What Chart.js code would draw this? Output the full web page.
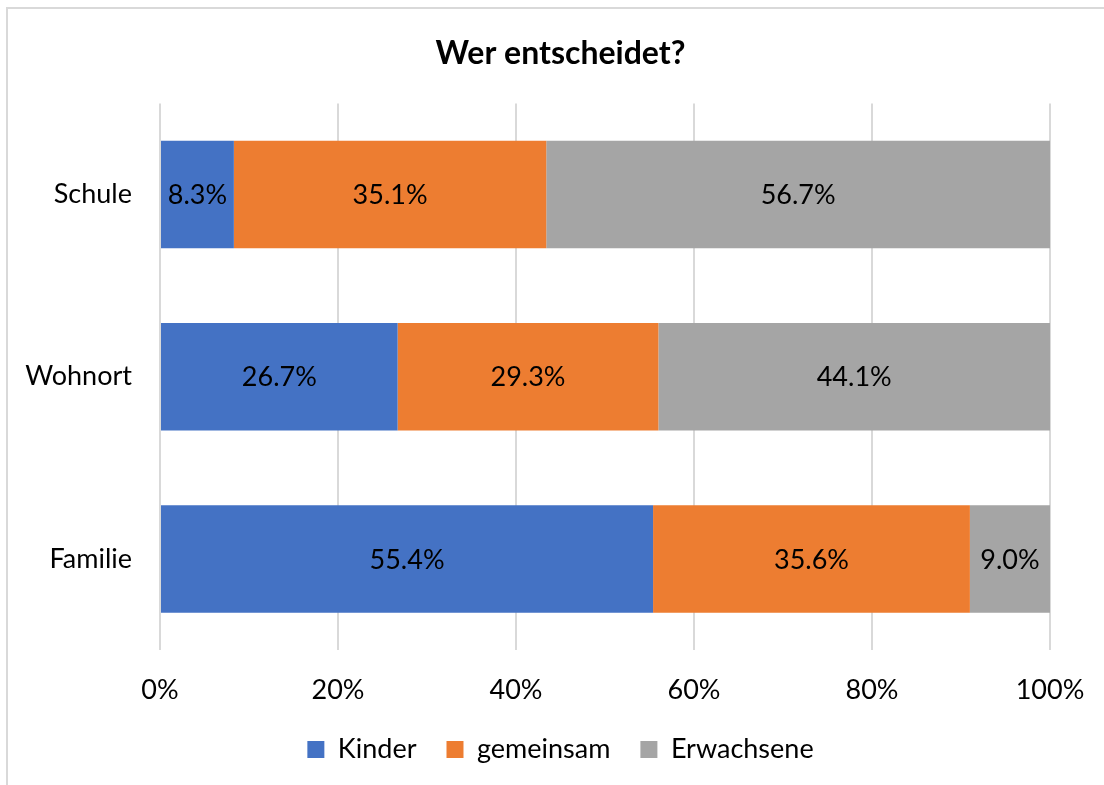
<!DOCTYPE html>
<html>
<head>
<meta charset="utf-8">
<script src="https://cdn.jsdelivr.net/npm/chart.js@4"></script>
<style>
  html, body { margin: 0; padding: 0; background: #fff; overflow: hidden; }
  #frame { position: absolute; left: 6px; top: 7px; width: 1120px; height: 800px; border: 2px solid #d9d9d9; box-sizing: border-box; }
  #wrap { position: absolute; left: 0; top: 0; width: 1104px; height: 785px; }
</style>
</head>
<body>
<div id="frame"></div>
<div id="wrap"><canvas id="chart" width="1104" height="785"></canvas></div>
<script>
// values
const categories = ["Schule", "Wohnort", "Familie"];
const kinder = [8.3, 26.7, 55.4];
const gemeinsam = [35.1, 29.3, 35.6];
const erwachsene = [56.7, 44.1, 9.0];
const tickLabels = ["0%", "20%", "40%", "60%", "80%", "100%"];

const fontFamily = "Lato, 'Open Sans', sans-serif";

// draws the value in the middle of each bar segment
const barLabels = {
  id: "barLabels",
  afterDatasetsDraw(chart) {
    const ctx = chart.ctx;
    ctx.save();
    ctx.font = "27px " + fontFamily;
    ctx.fillStyle = "#000";
    ctx.textAlign = "center";
    ctx.textBaseline = "middle";
    chart.data.datasets.forEach((ds, i) => {
      chart.getDatasetMeta(i).data.forEach((bar, j) => {
        const x0 = Math.min(bar.x, chart.chartArea.right);
        const x = (x0 + bar.base) / 2;
        ctx.fillText(ds.data[j].toFixed(1) + "%", x, bar.y + 1);
      });
    });
    ctx.restore();
  }
};

new Chart(document.getElementById("chart"), {
  type: "bar",
  data: {
    labels: categories,
    datasets: [
      { label: "Kinder", data: kinder, backgroundColor: "#4472c4" },
      { label: "gemeinsam", data: gemeinsam, backgroundColor: "#ed7d31" },
      { label: "Erwachsene", data: erwachsene, backgroundColor: "#a5a5a5" }
    ]
  },
  options: {
    indexAxis: "y",
    responsive: false,
    animation: false,
    barPercentage: 0.59,
    categoryPercentage: 1,
    layout: { padding: { left: 24, right: 7, top: 34, bottom: 12 } },
    plugins: {
      title: {
        display: true,
        text: "Wer entscheidet?",
        color: "#000",
        font: { family: fontFamily, size: 32, weight: "bold" },
        padding: { top: 0, bottom: 31 }
      },
      legend: {
        position: "bottom",
        labels: {
          color: "#000",
          font: { family: fontFamily, size: 27 },
          boxWidth: 17,
          boxHeight: 17,
          padding: 30
        }
      },
      tooltip: { enabled: false }
    },
    scales: {
      x: {
        stacked: true,
        min: 0,
        max: 100,
        afterFit(scale) {
          scale.height = 56;
          scale.paddingRight = 54;
        },
        grid: { color: "#d9d9d9", lineWidth: 2, drawTicks: false },
        border: { display: false },
        ticks: {
          stepSize: 20,
          padding: 24,
          color: "#000",
          font: { family: fontFamily, size: 27 },
          callback: (v, i) => tickLabels[i]
        }
      },
      y: {
        stacked: true,
        afterFit(scale) { scale.width = 136; },
        grid: { display: false, drawTicks: false },
        border: { display: false },
        ticks: {
          padding: 28,
          color: "#000",
          font: { family: fontFamily, size: 27 }
        }
      }
    }
  },
  plugins: [barLabels]
});
</script>
</body>
</html>
